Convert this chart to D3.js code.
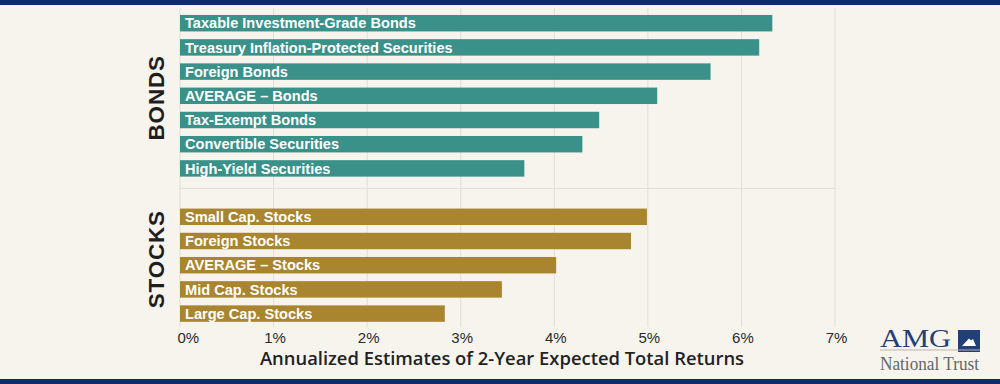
<!DOCTYPE html>
<html>
<head>
<meta charset="utf-8">
<script src="https://cdn.jsdelivr.net/npm/d3@7/dist/d3.min.js"></script>
<style>
  html, body { margin: 0; padding: 0; background: #f7f4ee; }
  svg { display: block; }
</style>
</head>
<body>
<svg id="chart" width="1000" height="384"></svg>
<script>
// ---- data ----
const bondCategories = [
  "Taxable Investment-Grade Bonds",
  "Treasury Inflation-Protected Securities",
  "Foreign Bonds",
  "AVERAGE \u2013 Bonds",
  "Tax-Exempt Bonds",
  "Convertible Securities",
  "High-Yield Securities"
];
const bondValues = [6.33, 6.19, 5.67, 5.10, 4.48, 4.30, 3.68];
const stockCategories = [
  "Small Cap. Stocks",
  "Foreign Stocks",
  "AVERAGE \u2013 Stocks",
  "Mid Cap. Stocks",
  "Large Cap. Stocks"
];
const stockValues = [4.99, 4.82, 4.02, 3.44, 2.83];
const xTickValues = [0, 1, 2, 3, 4, 5, 6, 7];
const groupLabels = ["BONDS", "STOCKS"];
const axisTitle = "Annualized Estimates of 2-Year Expected Total Returns";

// ---- setup ----
const svg = d3.select("#chart");
const W = 1000, H = 384;
const colors = { bond: "#3a9189", stock: "#a8852e", grid: "#e2ddd6", navy: "#0f2a6a" };

svg.append("rect").attr("width", W).attr("height", H).attr("fill", "#f7f4ee");

const GAP = "__gap__";
const rows = [
  ...bondCategories.map((c, i) => ({ cat: c, v: bondValues[i], g: "bond" })),
  { cat: GAP, v: null, g: "gap" },
  ...stockCategories.map((c, i) => ({ cat: c, v: stockValues[i], g: "stock" }))
];

const x = d3.scaleLinear().domain([0, 7]).range([180, 835]);
const y = d3.scaleBand()
  .domain(rows.map(r => r.cat))
  .range([11.1, 325.7])
  .paddingInner(0.32)
  .paddingOuter(0.16);

const gridTop = 8, gridBottom = 327;

// vertical gridlines
svg.append("g").selectAll("line").data(xTickValues).join("line")
  .attr("x1", d => x(d)).attr("x2", d => x(d))
  .attr("y1", gridTop).attr("y2", gridBottom)
  .attr("stroke", colors.grid).attr("stroke-width", 1);

// group separator
const sepY = y(GAP) + y.bandwidth() * 0.24;
svg.append("line")
  .attr("x1", x(0)).attr("x2", x(7))
  .attr("y1", sepY).attr("y2", sepY)
  .attr("stroke", colors.grid).attr("stroke-width", 1);

// bars
const data = rows.filter(r => r.g !== "gap");
svg.append("g").selectAll("rect").data(data).join("rect")
  .attr("x", x(0))
  .attr("y", d => y(d.cat))
  .attr("width", d => x(d.v) - x(0))
  .attr("height", y.bandwidth())
  .attr("fill", d => colors[d.g]);

// bar labels
svg.append("g").selectAll("text").data(data).join("text")
  .attr("x", x(0) + 5)
  .attr("y", d => y(d.cat) + y.bandwidth() / 2)
  .attr("dy", "0.36em")
  .attr("fill", "#ffffff")
  .attr("font-family", "Liberation Sans, Arial, sans-serif")
  .attr("font-weight", "bold")
  .attr("font-size", "14.6px")
  .text(d => d.cat);

// group labels
const bondMid = (y(bondCategories[0]) + y(bondCategories[bondCategories.length - 1]) + y.bandwidth()) / 2;
const stockMid = (y(stockCategories[0]) + y(stockCategories[stockCategories.length - 1]) + y.bandwidth()) / 2;
[[groupLabels[0], bondMid + 2], [groupLabels[1], stockMid - 6]].forEach(([t, cy]) => {
  svg.append("text")
    .attr("transform", `translate(164,${cy}) rotate(-90)`)
    .attr("text-anchor", "middle")
    .attr("fill", "#1e1e1e")
    .attr("font-family", "Liberation Sans, Arial, sans-serif")
    .attr("font-weight", "bold")
    .attr("font-size", "22.5px")
    .attr("letter-spacing", "0.8px")
    .text(t);
});

// x axis tick labels
const xAxis = d3.axisBottom(x).tickValues(xTickValues).tickSize(0).tickFormat(d => d + "%");
const gx = svg.append("g").attr("transform", `translate(0,${gridBottom})`).call(xAxis);
gx.select(".domain").remove();
gx.selectAll("text")
  .attr("y", 15.5)
  .attr("dy", 0)
  .attr("fill", "#2a2a2a")
  .attr("font-family", "Liberation Sans, Arial, sans-serif")
  .attr("font-size", "15px")
  .attr("text-anchor", d => d === 0 ? "start" : "middle")
  .attr("dx", d => d === 0 ? -3 : 1);

// axis title
svg.append("text")
  .attr("x", 502).attr("y", 365)
  .attr("text-anchor", "middle")
  .attr("fill", "#222")
  .attr("font-family", "Open Sans, sans-serif")
  .attr("font-weight", 600)
  .attr("font-size", "18.4px")
  .text(axisTitle);

// borders
svg.append("rect").attr("x", 0).attr("y", 0).attr("width", W).attr("height", 5).attr("fill", colors.navy);
svg.append("rect").attr("x", 0).attr("y", 379).attr("width", W).attr("height", 5).attr("fill", colors.navy);

// logo
const logo = svg.append("g");
logo.append("text")
  .attr("x", 880).attr("y", 347)
  .attr("fill", "#223f78")
  .attr("font-family", "Liberation Serif, Times New Roman, serif")
  .attr("font-size", "25px")
  .attr("textLength", 71).attr("lengthAdjust", "spacingAndGlyphs")
  .text("AMG");
logo.append("rect").attr("x", 958).attr("y", 330).attr("width", 22).attr("height", 22).attr("fill", "#223f78");
logo.append("path").attr("d", "M962,346 L969,338.5 L971,340.5 L973,339 L976,346 Z").attr("fill", "#ffffff");
logo.append("line").attr("x1", 880).attr("x2", 980).attr("y1", 350).attr("y2", 350)
  .attr("stroke", "#b9b6b0").attr("stroke-width", 1);
logo.append("text")
  .attr("x", 880).attr("y", 370)
  .attr("fill", "#666")
  .attr("font-family", "Liberation Serif, Times New Roman, serif")
  .attr("font-size", "18px")
  .attr("textLength", 99).attr("lengthAdjust", "spacingAndGlyphs")
  .text("National Trust");
</script>
</body>
</html>
